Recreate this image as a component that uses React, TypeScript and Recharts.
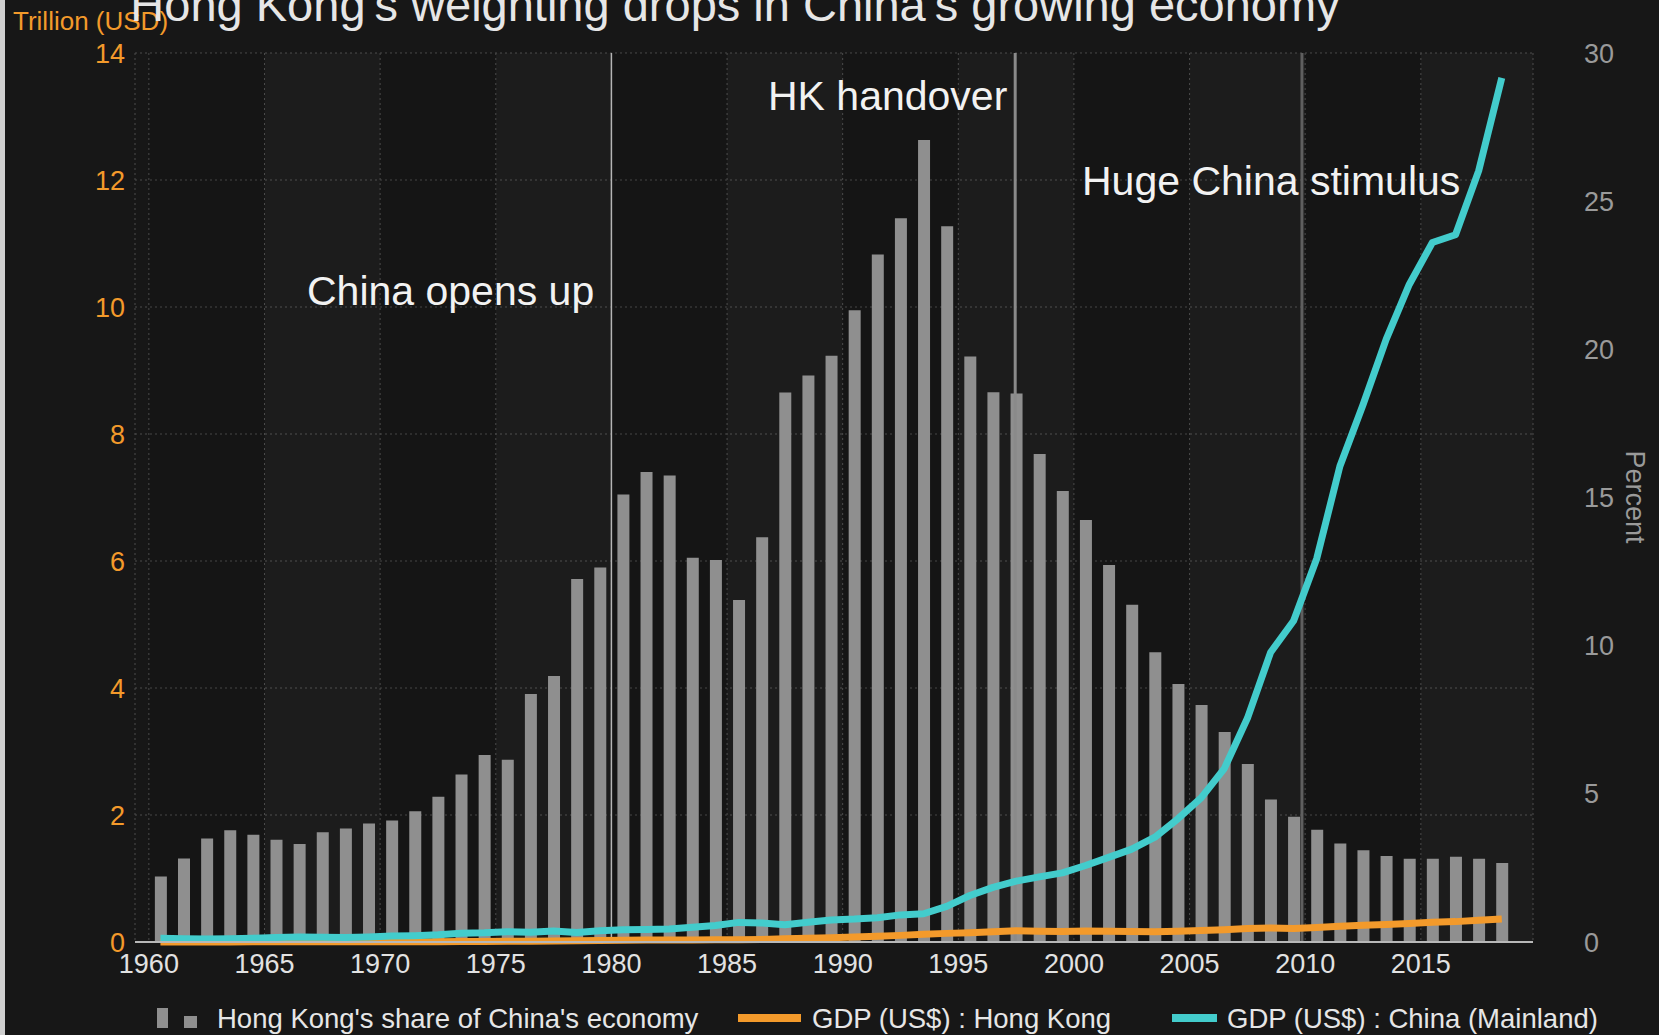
import React from 'react';
import { ComposedChart, Bar, Line, XAxis, YAxis, CartesianGrid, ReferenceLine, ReferenceArea } from 'recharts';

const W = 1659;
const H = 1035;
const FONT = '"Liberation Sans", Arial, sans-serif';

const ORANGE = '#f39a2b';
const CYAN = '#43cccc';
const BAR = '#8f8f8f';

// years on the x axis (bars sit at mid-year)
const years = [
  1960, 1961, 1962, 1963, 1964, 1965, 1966, 1967, 1968, 1969,
  1970, 1971, 1972, 1973, 1974, 1975, 1976, 1977, 1978, 1979,
  1980, 1981, 1982, 1983, 1984, 1985, 1986, 1987, 1988, 1989,
  1990, 1991, 1992, 1993, 1994, 1995, 1996, 1997, 1998, 1999,
  2000, 2001, 2002, 2003, 2004, 2005, 2006, 2007, 2008, 2009,
  2010, 2011, 2012, 2013, 2014, 2015, 2016, 2017, 2018,
];

// Hong Kong's share of China's economy, percent
const hkShare = [
  2.21, 2.82, 3.49, 3.77, 3.62, 3.45, 3.31, 3.70, 3.83, 4.00,
  4.10, 4.41, 4.90, 5.65, 6.31, 6.15, 8.37, 8.98, 12.25, 12.64,
  15.10, 15.86, 15.74, 12.97, 12.89, 11.54, 13.66, 18.54, 19.12, 19.78,
  21.32, 23.20, 24.42, 27.06, 24.15, 19.76, 18.55, 18.51, 16.47, 15.22,
  14.24, 12.72, 11.38, 9.78, 8.71, 8.00, 7.09, 6.01, 4.81, 4.23,
  3.79, 3.32, 3.10, 2.90, 2.81, 2.81, 2.88, 2.81, 2.67,
];

// GDP (US$) : Hong Kong, trillion
const hkGdp = [
  0.0013, 0.0014, 0.0017, 0.0019, 0.0022, 0.0024, 0.0025, 0.0027, 0.0027, 0.0032,
  0.0038, 0.0044, 0.0055, 0.0077, 0.0091, 0.0101, 0.0129, 0.0157, 0.0183, 0.0225,
  0.0289, 0.0311, 0.0323, 0.0299, 0.0335, 0.0357, 0.0411, 0.0506, 0.0597, 0.0688,
  0.0769, 0.0890, 0.1043, 0.1204, 0.1358, 0.1447, 0.1597, 0.1774, 0.1689, 0.1658,
  0.1717, 0.1694, 0.1664, 0.1614, 0.1691, 0.1816, 0.1935, 0.2116, 0.2193, 0.2141,
  0.2286, 0.2485, 0.2626, 0.2757, 0.2915, 0.3094, 0.3209, 0.3413, 0.3627,
];

// GDP (US$) : China (Mainland), trillion
const chinaGdp = [
  0.060, 0.050, 0.047, 0.051, 0.060, 0.070, 0.077, 0.073, 0.071, 0.080,
  0.093, 0.100, 0.114, 0.139, 0.144, 0.163, 0.154, 0.175, 0.150, 0.178,
  0.191, 0.196, 0.205, 0.231, 0.260, 0.309, 0.301, 0.273, 0.312, 0.348,
  0.361, 0.383, 0.427, 0.445, 0.562, 0.732, 0.861, 0.958, 1.025, 1.089,
  1.205, 1.332, 1.462, 1.650, 1.942, 2.269, 2.730, 3.523, 4.558, 5.059,
  6.040, 7.492, 8.462, 9.491, 10.355, 11.016, 11.138, 12.143, 13.608,
];

const yearTicks = [1960, 1965, 1970, 1975, 1980, 1985, 1990, 1995, 2000, 2005, 2010, 2015];
const trillionTicks = [0, 2, 4, 6, 8, 10, 12, 14];
const percentTicks = [0, 5, 10, 15, 20, 25, 30];
const lightBands = [[1965, 1970], [1975, 1980], [1985, 1990], [1995, 2000], [2005, 2010], [2015, 2020]];
const darkBands = [[1960, 1965], [1970, 1975], [1980, 1985], [1990, 1995], [2000, 2005], [2010, 2015]];

const data = years.map((y, i) => ({
  mid: y + 0.5,
  share: hkShare[i],
  hk: hkGdp[i],
  china: chinaGdp[i],
}));

const Overlay = () => (
  <svg width={W} height={H} style={{ position: 'absolute', left: 0, top: 0, pointerEvents: 'none' }} fontFamily={FONT}>
    <text x={13} y={30} fontSize={26} fill={ORANGE}>Trillion (USD)</text>
    <text x={735} y={21} fontSize={47} fill="#e6e6e6" textAnchor="middle">
      Hong Kong's weighting drops in China's growing economy
    </text>
    <text x={307} y={305} fontSize={41} fill="#f2f2f2">China opens up</text>
    <text x={768} y={110} fontSize={41} fill="#f2f2f2">HK handover</text>
    <text x={1082} y={195} fontSize={41} fill="#f2f2f2">Huge China stimulus</text>
    <text x={1635} y={497} fontSize={27} fill="#9a9a9a" textAnchor="middle" dominantBaseline="central" transform="rotate(90 1635 497)">
      Percent
    </text>
    {/* legend */}
    <rect x={157} y={1008} width={11} height={20} fill={BAR} />
    <rect x={184} y={1016} width={13} height={12} fill={BAR} />
    <text x={217} y={1028} fontSize={27.5} fill="#e6e6e6">Hong Kong's share of China's economy</text>
    <line x1={738} y1={1018} x2={801} y2={1018} stroke={ORANGE} strokeWidth={8} />
    <text x={812} y={1028} fontSize={27.5} fill="#e6e6e6">GDP (US$) : Hong Kong</text>
    <line x1={1172} y1={1018} x2={1217} y2={1018} stroke={CYAN} strokeWidth={8} />
    <text x={1227} y={1028} fontSize={27.5} fill="#e6e6e6">GDP (US$) : China (Mainland)</text>
  </svg>
);

export default function App() {
  return (
    <div style={{ position: 'absolute', left: 0, top: 0, width: W, height: H, background: '#171717', overflow: 'hidden' }}>
      <div style={{ position: 'absolute', left: 0, top: 0, width: 5, height: H, background: '#cfcfcf' }} />
      <ComposedChart width={W} height={H} data={data} margin={{ top: 53, right: 0, bottom: 0, left: 0 }}>
        {darkBands.map(([a, b]) => (
          <ReferenceArea key={`d${a}`} x1={a} x2={b} fill="#000000" fillOpacity={0.08} stroke="none" ifOverflow="hidden" />
        ))}
        {lightBands.map(([a, b]) => (
          <ReferenceArea key={`l${a}`} x1={a} x2={b} fill="#ffffff" fillOpacity={0.022} stroke="none" ifOverflow="hidden" />
        ))}
        <CartesianGrid stroke="#4d4d4d" strokeDasharray="2 3" />
        <XAxis
          dataKey="mid"
          type="number"
          domain={[1959.4, 2019.85]}
          ticks={yearTicks}
          allowDataOverflow
          interval={0}
          height={93}
          tickLine={false}
          tickSize={0}
          tickMargin={12}
          axisLine={{ stroke: '#b8b8b8', strokeWidth: 2 }}
          tick={{ fill: '#e2e2e2', fontSize: 27, fontFamily: FONT }}
        />
        <YAxis
          domain={[0, 14]}
          ticks={trillionTicks}
          width={135}
          axisLine={false}
          tickLine={false}
          tickSize={0}
          tickMargin={10}
          tick={{ fill: ORANGE, fontSize: 27, fontFamily: FONT }}
        />
        <YAxis
          yAxisId="pct"
          orientation="right"
          domain={[0, 30]}
          ticks={percentTicks}
          width={126}
          axisLine={false}
          tickLine={false}
          tickSize={0}
          tickMargin={51}
          tick={{ fill: '#9a9a9a', fontSize: 27, fontFamily: FONT, textAnchor: 'start' }}
        />
        <ReferenceLine x={1980} stroke="#b5b5b5" strokeWidth={1.5} />
        <ReferenceLine x={1997.46} stroke="#8a8a8a" strokeWidth={3} />
        <ReferenceLine x={2009.86} stroke="#5f5f5f" strokeWidth={3} />
        <Bar yAxisId="pct" dataKey="share" fill={BAR} barSize={12} isAnimationActive={false} name="Hong Kong's share of China's economy" />
        <Line dataKey="hk" stroke={ORANGE} strokeWidth={7} dot={false} strokeLinejoin="round" isAnimationActive={false} name="GDP (US$) : Hong Kong" />
        <Line dataKey="china" stroke={CYAN} strokeWidth={7} dot={false} strokeLinejoin="round" isAnimationActive={false} name="GDP (US$) : China (Mainland)" />
      </ComposedChart>
      <Overlay />
    </div>
  );
}
